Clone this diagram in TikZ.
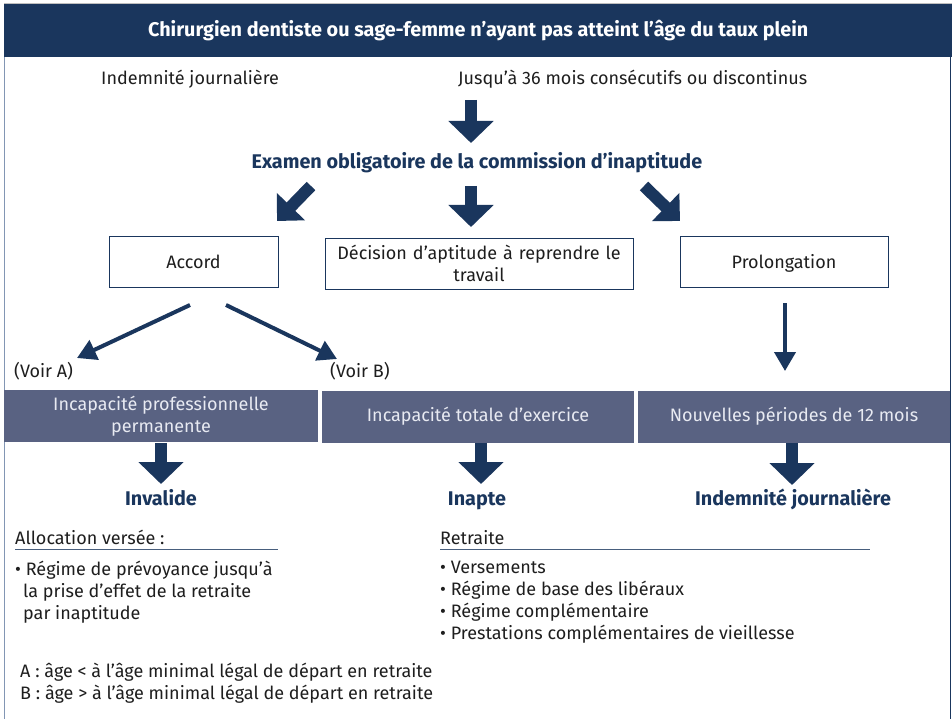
\documentclass[tikz,border=0pt]{standalone}
\usepackage{fontspec}
\setmainfont{Fira Sans}
\usetikzlibrary{arrows.meta}
\definecolor{navy}{RGB}{26,54,93}
\definecolor{bandc}{RGB}{89,98,130}
\definecolor{txt}{RGB}{30,30,30}
\definecolor{framec}{RGB}{130,150,180}
\definecolor{bandtxt}{RGB}{232,234,242}
\tikzset{
  body/.style={font=\fontsize{18}{22}\selectfont, text=txt, inner sep=0pt},
  single/.style={text height=19pt, text depth=4pt},
  bandsingle/.style={text height=13pt, text depth=4pt},
  head/.style={font=\fontsize{19.8}{22}\selectfont\bfseries, text=navy, inner sep=0pt, text height=20pt, text depth=4pt},
  stepbox/.style={draw=navy, line width=0.8pt, fill=white, font=\fontsize{18}{22}\selectfont, text=txt, minimum height=51pt, align=center, inner sep=0pt},
  bandbox/.style={fill=bandc, minimum height=52pt, font=\fontsize{18}{22}\selectfont, text=bandtxt, align=center, inner sep=0pt},
  bigarrow/.style={navy, line width=12pt, -{Triangle[width=44pt,length=22pt]}},
  diagarrow/.style={navy, line width=12pt, -{Triangle[width=38pt,length=20pt]}},
  thinarrow/.style={navy, line width=4pt, -{Triangle[width=21pt,length=19pt]}},
  rule/.style={navy!80, line width=0.8pt}
}
\begin{document}
\begin{tikzpicture}[x=1pt,y=-1pt]
\useasboundingbox (0,0) rectangle (952,719);
\fill[white] (0,0) rectangle (952,719);
% frame
\draw[framec, line width=1pt] (4.5,4) -- (4.5,719);
\draw[navy, line width=1.5pt] (950.7,4) -- (950.7,719);
\draw[gray!50, line width=0.8pt] (4,3.5) -- (952,3.5);
% header
\node[fill=navy, minimum width=948pt, minimum height=53pt, anchor=north west, inner sep=0pt,
      font=\fontsize{19.8}{22}\selectfont\bfseries, text=white] (header) at (4,4)
      {Chirurgien dentiste ou sage-femme n’ayant pas atteint l’âge du taux plein};
% top line
\node[body, single, anchor=west] (ij) at (101,77) {Indemnité journalière};
\node[body, single, anchor=west] (jusqu) at (458,77) {Jusqu’à 36 mois consécutifs ou discontinus};
\coordinate (a1s) at (471,100);
\coordinate (a1e) at (471,143);
\draw[bigarrow] (a1s) -- (a1e);
\node[head] (exam) at (477,161) {Examen obligatoire de la commission d’inaptitude};
% three boxes
\node[stepbox, single, minimum width=169pt] (accord) at (193.5,261.5) {Accord};
\node[stepbox, minimum width=308pt, text width=300pt] (decision) at (479,263.5)
   {Décision d’aptitude à reprendre le\\travail};
\node[stepbox, single, minimum width=208pt] (prolong) at (784,261.5) {Prolongation};
% arrows to boxes
\coordinate (dls) at (311,186);
\coordinate (dle) at (277,221);
\coordinate (dms) at (471,186);
\coordinate (dme) at (471,227);
\coordinate (drs) at (644,186);
\coordinate (dre) at (680,221);
\draw[diagarrow] (dls) -- (dle);
\draw[bigarrow] (dms) -- (dme);
\draw[diagarrow] (drs) -- (dre);
% thin arrows
\coordinate (t1s) at (190,305);
\coordinate (t1e) at (77,358);
\coordinate (t2s) at (226,305);
\coordinate (t2e) at (337,359);
\coordinate (t3s) at (785,303);
\coordinate (t3e) at (785,371);
\draw[thinarrow] (t1s) -- (t1e);
\draw[thinarrow] (t2s) -- (t2e);
\draw[thinarrow] (t3s) -- (t3e);
\node[body, single, anchor=west] (voira) at (14,370) {(Voir A)};
\node[body, single, anchor=west] (voirb) at (330,370) {(Voir B)};
% bands
\node[bandbox, minimum width=314pt] (ipp) at (161,416) {Incapacité professionnelle\\permanente};
\node[bandbox, bandsingle, minimum width=312pt] (ite) at (478,416.5) {Incapacité totale d’exercice};
\node[bandbox, bandsingle, minimum width=312pt] (npd) at (794,416.5) {Nouvelles périodes de 12 mois};
% lower arrows
\coordinate (l1s) at (161,443);
\coordinate (l1e) at (161,484);
\coordinate (l2s) at (481,443);
\coordinate (l2e) at (481,484);
\coordinate (l3s) at (792,443);
\coordinate (l3e) at (792,485);
\draw[bigarrow] (l1s) -- (l1e);
\draw[bigarrow] (l2s) -- (l2e);
\draw[bigarrow] (l3s) -- (l3e);
\node[head] (invalide) at (161,497) {Invalide};
\node[head] (inapte) at (477,497) {Inapte};
\node[head] (ij2) at (793,497) {Indemnité journalière};
% bottom texts
\node[body, single, anchor=west] (alloc) at (15,537) {Allocation versée :};
\draw[rule] (15,549) -- (278,549);
\node[body, single, anchor=west] (retr) at (440,537) {Retraite};
\draw[rule] (440,549) -- (870,549);
\node[body, anchor=north west, align=left] (listl) at (15,561)
  {• Régime de prévoyance jusqu’à\\
   \hspace*{8pt}la prise d’effet de la retraite\\
   \hspace*{8pt}par inaptitude};
\node[body, anchor=north west, align=left] (listr) at (440,561)
  {• Versements\\
   • Régime de base des libéraux\\
   • Régime complémentaire\\
   • Prestations complémentaires de vieillesse};
\node[body, anchor=north west, align=left] (legend) at (20,663)
  {A : âge < à l’âge minimal légal de départ en retraite\\
   B : âge > à l’âge minimal légal de départ en retraite};
\end{tikzpicture}
\end{document}
